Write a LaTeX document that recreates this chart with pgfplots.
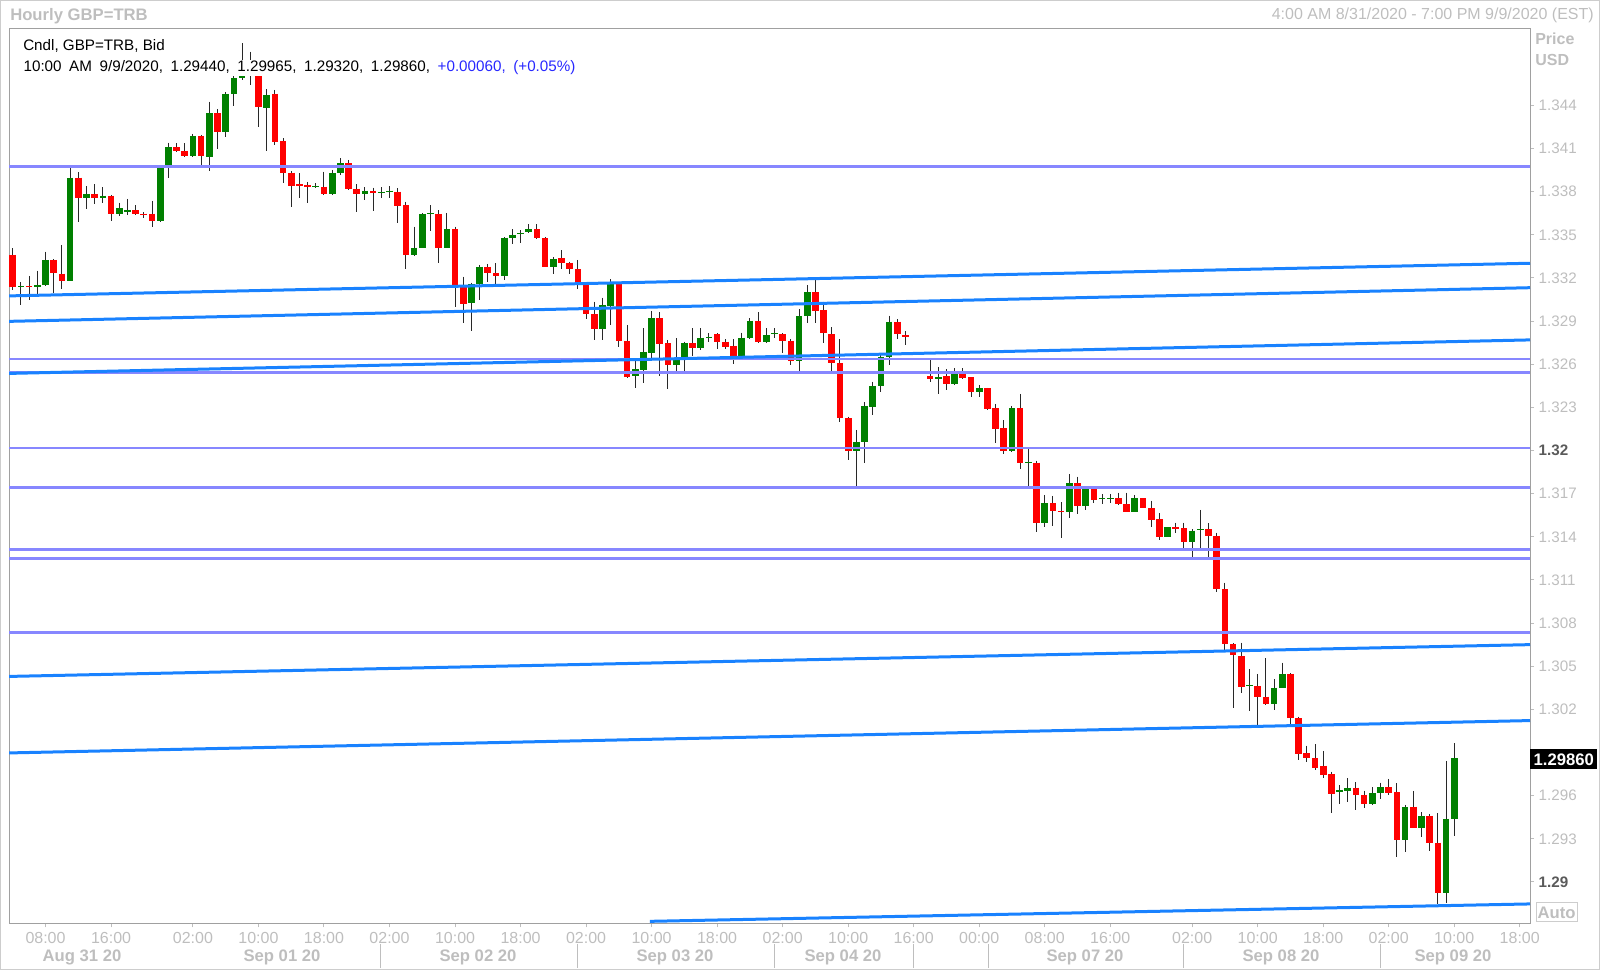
\documentclass[border=0pt]{standalone}
\usepackage{pgfplots}
\pgfplotsset{compat=1.18}
\usepackage{pgfplotstable}
\usepackage{fontspec}
\setmainfont{Liberation Sans}

\definecolor{upc}{RGB}{0,128,0}
\definecolor{dnc}{RGB}{255,0,0}
\definecolor{wickc}{RGB}{40,40,40}
\definecolor{trend}{RGB}{25,130,255}
\definecolor{level}{RGB}{135,135,255}
\definecolor{lbl}{RGB}{190,190,190}
\definecolor{lbldark}{RGB}{90,90,90}
\definecolor{frmc}{RGB}{160,160,160}
\definecolor{outer}{RGB}{205,205,205}
\definecolor{chg}{RGB}{40,40,255}

% hourly candles, t = hour slot from Aug 31 00:00 (weekend compressed)
\pgfplotstableread{
t o h l c
4 1.33360 1.33406 1.33116 1.33135
5 1.33135 1.33170 1.33012 1.33142
6 1.33142 1.33214 1.33047 1.33135
7 1.33135 1.33250 1.33081 1.33151
8 1.33151 1.33382 1.33144 1.33325
9 1.33325 1.33330 1.33093 1.33232
10 1.33229 1.33429 1.33121 1.33181
11 1.33181 1.33967 1.33179 1.33897
12 1.33897 1.33935 1.33591 1.33754
13 1.33754 1.33839 1.33677 1.33784
14 1.33784 1.33851 1.33714 1.33754
15 1.33754 1.33830 1.33719 1.33772
16 1.33772 1.33777 1.33598 1.33647
17 1.33647 1.33723 1.33631 1.33684
18 1.33661 1.33749 1.33638 1.33672
19 1.33672 1.33707 1.33638 1.33642
20 1.33647 1.33658 1.33615 1.33636
21 1.33647 1.33735 1.33556 1.33594
22 1.33594 1.33985 1.33589 1.33967
23 1.33973 1.34140 1.33893 1.34108
24 1.34108 1.34136 1.34078 1.34085
25 1.34085 1.34136 1.34043 1.34048
26 1.34048 1.34201 1.34041 1.34187
27 1.34187 1.34194 1.33985 1.34048
28 1.34043 1.34425 1.33946 1.34345
29 1.34345 1.34373 1.34097 1.34217
30 1.34217 1.34491 1.34178 1.34479
31 1.34477 1.34604 1.34396 1.34588
32 1.34590 1.34831 1.34576 1.34701
33 1.34715 1.34773 1.34541 1.34618
34 1.34618 1.34646 1.34252 1.34386
35 1.34380 1.34512 1.34085 1.34472
36 1.34479 1.34507 1.34124 1.34145
37 1.34152 1.34171 1.33862 1.33932
38 1.33932 1.33944 1.33695 1.33839
39 1.33851 1.33928 1.33754 1.33839
40 1.33844 1.33867 1.33719 1.33830
41 1.33834 1.33858 1.33825 1.33839
42 1.33834 1.33939 1.33777 1.33782
43 1.33782 1.33951 1.33777 1.33928
44 1.33928 1.34032 1.33916 1.33997
45 1.33997 1.34020 1.33811 1.33821
46 1.33821 1.33853 1.33661 1.33782
47 1.33782 1.33832 1.33742 1.33807
48 1.33807 1.33827 1.33665 1.33789
49 1.33789 1.33832 1.33756 1.33800
50 1.33798 1.33839 1.33754 1.33807
51 1.33800 1.33825 1.33584 1.33702
52 1.33707 1.33730 1.33260 1.33360
53 1.33360 1.33556 1.33353 1.33410
54 1.33410 1.33649 1.33408 1.33645
55 1.33641 1.33707 1.33528 1.33648
56 1.33645 1.33672 1.33302 1.33410
57 1.33410 1.33652 1.33408 1.33538
58 1.33538 1.33556 1.33000 1.33151
59 1.33139 1.33209 1.32885 1.33019
60 1.33024 1.33167 1.32833 1.33158
61 1.33158 1.33290 1.33047 1.33278
62 1.33278 1.33297 1.33174 1.33232
63 1.33232 1.33302 1.33135 1.33216
64 1.33216 1.33483 1.33186 1.33480
65 1.33480 1.33538 1.33436 1.33499
66 1.33507 1.33533 1.33441 1.33513
67 1.33517 1.33573 1.33513 1.33538
68 1.33538 1.33573 1.33471 1.33476
69 1.33476 1.33485 1.33274 1.33278
70 1.33278 1.33344 1.33225 1.33332
71 1.33337 1.33394 1.33260 1.33306
72 1.33306 1.33313 1.33225 1.33260
73 1.33260 1.33325 1.33123 1.33151
74 1.33151 1.33158 1.32912 1.32949
75 1.32949 1.33035 1.32769 1.32845
76 1.32845 1.33063 1.32769 1.33012
77 1.33005 1.33191 1.32873 1.33174
78 1.33158 1.33163 1.32722 1.32762
79 1.32764 1.32873 1.32502 1.32513
80 1.32518 1.32634 1.32433 1.32565
81 1.32560 1.32850 1.32467 1.32687
82 1.32680 1.32970 1.32641 1.32919
83 1.32919 1.32961 1.32518 1.32741
84 1.32746 1.32769 1.32426 1.32595
85 1.32595 1.32780 1.32548 1.32629
86 1.32629 1.32757 1.32548 1.32746
87 1.32746 1.32850 1.32657 1.32711
88 1.32711 1.32850 1.32699 1.32784
89 1.32780 1.32815 1.32757 1.32791
90 1.32810 1.32817 1.32704 1.32757
91 1.32757 1.32773 1.32704 1.32718
92 1.32727 1.32773 1.32602 1.32657
93 1.32657 1.32819 1.32648 1.32784
94 1.32780 1.32919 1.32775 1.32903
95 1.32903 1.32961 1.32748 1.32753
96 1.32753 1.32850 1.32746 1.32803
97 1.32807 1.32850 1.32780 1.32814
98 1.32810 1.32815 1.32680 1.32764
99 1.32764 1.32773 1.32595 1.32625
100 1.32625 1.32982 1.32555 1.32935
101 1.32935 1.33151 1.32889 1.33100
102 1.33100 1.33186 1.32889 1.32972
103 1.32977 1.33035 1.32750 1.32815
104 1.32810 1.32857 1.32548 1.32606
105 1.32606 1.32773 1.32200 1.32228
106 1.32224 1.32235 1.31934 1.31997
107 1.31997 1.32143 1.31753 1.32061
108 1.32061 1.32335 1.31915 1.32310
109 1.32305 1.32479 1.32247 1.32449
110 1.32449 1.32664 1.32409 1.32648
111 1.32648 1.32937 1.32595 1.32896
112 1.32896 1.32912 1.32773 1.32810
113 1.32803 1.32831 1.32734 1.32787
116 1.32520 1.32629 1.32479 1.32497
117 1.32497 1.32579 1.32393 1.32509
118 1.32518 1.32565 1.32421 1.32463
119 1.32463 1.32572 1.32456 1.32532
120 1.32532 1.32572 1.32497 1.32506
121 1.32509 1.32511 1.32370 1.32409
122 1.32409 1.32456 1.32370 1.32433
123 1.32433 1.32435 1.32282 1.32289
124 1.32294 1.32324 1.32054 1.32152
125 1.32155 1.32212 1.31974 1.31997
126 1.31997 1.32310 1.31992 1.32294
127 1.32294 1.32393 1.31869 1.31911
128 1.31913 1.32008 1.31755 1.31918
129 1.31915 1.31929 1.31436 1.31494
130 1.31494 1.31691 1.31466 1.31633
131 1.31633 1.31684 1.31477 1.31580
132 1.31582 1.31640 1.31390 1.31571
133 1.31571 1.31835 1.31529 1.31772
134 1.31772 1.31818 1.31559 1.31616
135 1.31616 1.31739 1.31587 1.31737
136 1.31737 1.31737 1.31633 1.31656
137 1.31663 1.31696 1.31628 1.31667
138 1.31665 1.31696 1.31637 1.31668
139 1.31668 1.31707 1.31621 1.31626
140 1.31626 1.31707 1.31575 1.31575
141 1.31575 1.31691 1.31573 1.31668
142 1.31668 1.31668 1.31598 1.31598
143 1.31598 1.31651 1.31470 1.31517
144 1.31522 1.31564 1.31378 1.31401
145 1.31401 1.31466 1.31397 1.31466
146 1.31466 1.31498 1.31429 1.31457
147 1.31459 1.31498 1.31320 1.31366
148 1.31366 1.31452 1.31262 1.31443
149 1.31447 1.31587 1.31320 1.31452
150 1.31452 1.31494 1.31262 1.31408
151 1.31408 1.31429 1.31018 1.31035
152 1.31035 1.31081 1.30613 1.30653
153 1.30653 1.30660 1.30208 1.30578
154 1.30571 1.30664 1.30316 1.30358
155 1.30359 1.30479 1.30191 1.30366
156 1.30363 1.30446 1.30085 1.30288
157 1.30288 1.30555 1.30231 1.30238
158 1.30238 1.30409 1.30196 1.30351
159 1.30351 1.30525 1.30347 1.30446
160 1.30446 1.30451 1.30085 1.30137
161 1.30137 1.30149 1.29848 1.29888
162 1.29895 1.29948 1.29836 1.29860
163 1.29860 1.29957 1.29779 1.29795
164 1.29809 1.29911 1.29725 1.29744
165 1.29751 1.29767 1.29478 1.29610
166 1.29624 1.29674 1.29540 1.29640
167 1.29635 1.29721 1.29558 1.29656
168 1.29656 1.29693 1.29501 1.29605
169 1.29605 1.29635 1.29512 1.29542
170 1.29540 1.29658 1.29535 1.29617
171 1.29617 1.29690 1.29577 1.29658
172 1.29658 1.29716 1.29605 1.29621
173 1.29624 1.29686 1.29176 1.29292
174 1.29292 1.29535 1.29211 1.29519
175 1.29524 1.29633 1.29373 1.29373
176 1.29373 1.29485 1.29311 1.29459
177 1.29459 1.29473 1.29218 1.29269
178 1.29273 1.29478 1.28847 1.28926
179 1.28926 1.29841 1.28852 1.29440
180 1.29440 1.29965 1.29320 1.29860
}\candles

\begin{document}
\begin{tikzpicture}
\begin{axis}[
    at={(6.75pt,34.875pt)}, anchor=south west,
    scale only axis, width=1140.75pt, height=670.875pt,
    xmin=3.54, xmax=189.25, ymin=1.28711, ymax=1.34931,
    axis line style={draw=frmc, line width=0.75pt},
    tick align=outside, major tick length=3pt,
    tick style={draw=lbl, line width=0.75pt},
    xtick pos=left, ytick pos=right, yticklabel pos=right,
    scaled ticks=false,
    xtick={8,16,26,34,42,50,58,66,74,82,90,98,106,114,122,130,138,148,156,164,172,180,188},
    xticklabels={08:00,16:00,02:00,10:00,18:00,02:00,10:00,18:00,02:00,10:00,18:00,02:00,10:00,16:00,00:00,08:00,16:00,02:00,10:00,18:00,02:00,10:00,18:00},
    ytick={1.290,1.293,1.296,1.299,1.302,1.305,1.308,1.311,1.314,1.317,1.320,1.323,1.326,1.329,1.332,1.335,1.338,1.341,1.344},
    yticklabels={{\color{lbldark}\bfseries 1.29},1.293,1.296,{},1.302,1.305,1.308,1.311,1.314,1.317,{\color{lbldark}\bfseries 1.32},1.323,1.326,1.329,1.332,1.335,1.338,1.341,1.344},
    xticklabel style={text=lbl, font=\fontsize{12}{14}\selectfont},
    yticklabel style={text=lbl, font=\fontsize{11.4}{13}\selectfont},
    clip mode=individual,
]
% wicks
\addplot [draw=none, mark=none, forget plot,
    error bars/.cd, y dir=minus, y explicit, error mark=none,
    error bar style={draw=wickc, line width=0.75pt, solid}]
    table [x=t, y=h, y error minus expr={\thisrow{h}-\thisrow{l}}] {\candles};
% rising bodies
\addplot [draw=none, mark=none, forget plot,
    restrict expr to domain={\thisrow{c}-\thisrow{o}}{0:1},
    error bars/.cd, y dir=minus, y explicit, error mark=none,
    error bar style={draw=upc, line width=5pt, solid}]
    table [x=t, y=c, y error minus expr={max(\thisrow{c}-\thisrow{o},0.00004)}] {\candles};
% falling bodies
\addplot [draw=none, mark=none, forget plot,
    restrict expr to domain={\thisrow{o}-\thisrow{c}}{0.000001:1},
    error bars/.cd, y dir=minus, y explicit, error mark=none,
    error bar style={draw=dnc, line width=5pt, solid}]
    table [x=t, y=o, y error minus expr={max(\thisrow{o}-\thisrow{c},0.00004)}] {\candles};

% horizontal levels
\pgfplotsinvokeforeach{1.33973,1.32636,1.32541,1.32016,1.31744,1.31313,1.31248,1.30733}{
    \addplot [level, line width=1.9pt, forget plot] coordinates {(3.54,#1) (189.25,#1)};
}
% trend lines
\addplot [trend, line width=2.25pt, forget plot] coordinates {(3.54,1.33075) (189.25,1.33302)};
\addplot [trend, line width=2.25pt, forget plot] coordinates {(3.54,1.32898) (189.25,1.33132)};
\addplot [trend, line width=2.25pt, forget plot] coordinates {(3.54,1.32536) (189.25,1.32769)};
\addplot [trend, line width=2.25pt, forget plot] coordinates {(3.54,1.30429) (189.25,1.30650)};
\addplot [trend, line width=2.25pt, forget plot] coordinates {(3.54,1.29897) (189.25,1.30122)};
\addplot [trend, line width=2.25pt, forget plot] coordinates {(81.8,1.28726) (189.25,1.28847)};
\end{axis}

\begin{scope}[x=0.75pt,y=0.75pt]
\draw[outer, line width=0.75pt] (0.5,0.5) rectangle (1599.5,969.5);
% header inside plot
\node[anchor=west, inner sep=0pt, font=\fontsize{11.4}{13}\selectfont] at (23,924) {Cndl, GBP=TRB, Bid};
\node[anchor=west, fill=white, inner sep=1pt, font=\fontsize{11.4}{13}\selectfont] at (22,902)
    {\spaceskip=0.5em 10:00 AM 9/9/2020, 1.29440, 1.29965, 1.29320, 1.29860, \textcolor{chg}{+0.00060, (+0.05\%)}};
% titles
\node[anchor=west, inner sep=0pt, text=lbl, font=\fontsize{12.5}{14}\selectfont\bfseries] at (10,954) {Hourly GBP=TRB};
\node[anchor=east, inner sep=0pt, text=lbl, font=\fontsize{12}{14}\selectfont] at (1594,955) {4:00 AM 8/31/2020 - 7:00 PM 9/9/2020 (EST)};
\node[anchor=west, inner sep=0pt, text=lbl, font=\fontsize{12}{14}\selectfont\bfseries] at (1535,931) {Price};
\node[anchor=west, inner sep=0pt, text=lbl, font=\fontsize{12}{14}\selectfont\bfseries] at (1535,910) {USD};
% last price marker
\node[anchor=west, fill=black, text=white, inner sep=0pt, minimum width=50.25pt, minimum height=15pt,
    font=\fontsize{12.5}{14}\selectfont\bfseries] at (1530,210.5) {1.29860};
% auto box
\node[draw=outer, line width=0.75pt, text=lbl, inner sep=0pt, minimum width=30.75pt, minimum height=14.25pt,
    font=\fontsize{12.5}{14}\selectfont\bfseries] at (1556.5,57.5) {Auto};
% day labels
\foreach \px/\day in {82/Aug 31 20, 282/Sep 01 20, 478/Sep 02 20, 675/Sep 03 20, 843/Sep 04 20, 1085/Sep 07 20, 1281/Sep 08 20, 1453/Sep 09 20}{
    \node[text=lbl, inner sep=0pt, font=\fontsize{12.5}{14}\selectfont\bfseries] at (\px,13) {\day};
}
\foreach \px in {380,577,774,913,988,1183,1380}{
    \draw[lbl, line width=0.75pt] (\px,26) -- (\px,2);
}
\pgfresetboundingbox
\path[use as bounding box] (0,0) rectangle (1600,970);
\end{scope}
\end{tikzpicture}
\end{document}
